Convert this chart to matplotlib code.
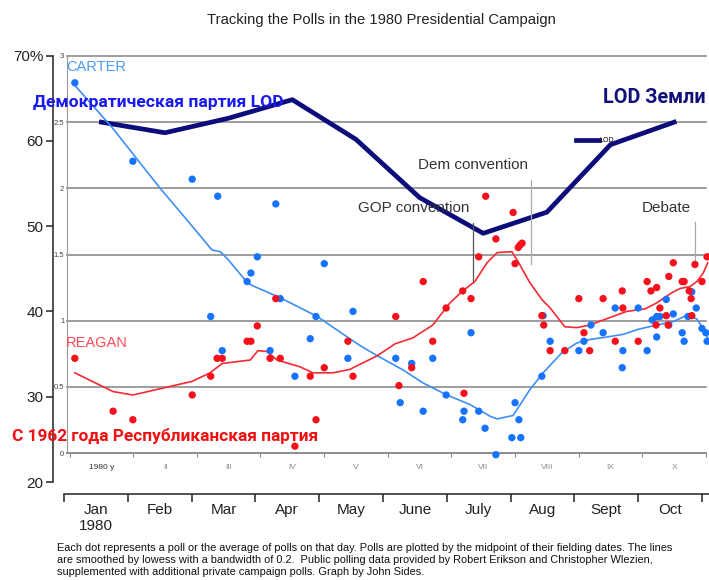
import matplotlib
matplotlib.use("Agg")
import matplotlib.pyplot as plt
import numpy as np

# poll dots: month position (0 = Jan 1) and percent
carter_m = [0.17, 1.08, 2.01, 2.41, 3.32, 3.03, 2.30, 2.48, 2.87, 2.93, 3.39, 3.95, 3.23, 3.62,
            3.86, 4.08, 4.45, 4.53, 5.20, 5.45, 5.78, 6.38, 5.27, 5.63, 5.99, 6.27, 6.25, 6.50,
            6.60, 6.77, 7.02, 7.16, 7.07, 7.13, 7.49, 7.62, 7.51, 8.07, 8.15, 8.26, 8.45, 8.64,
            8.75, 8.76, 9.00, 9.14, 9.22, 9.29, 9.34, 9.44, 9.29, 9.55, 9.48, 9.69, 9.72, 9.78,
            9.84, 9.91, 10.0, 10.06, 10.08]
carter_pct = [66.8, 57.6, 55.5, 53.5, 52.6, 46.4, 39.4, 35.4, 43.5, 44.5, 41.5, 39.4, 35.4, 32.4,
              36.8, 45.6, 34.5, 40.0, 34.5, 33.9, 34.5, 37.5, 29.3, 28.3, 30.2, 28.3, 27.3, 28.3,
              26.3, 23.2, 25.2, 25.2, 29.3, 27.3, 32.4, 36.5, 39.5, 35.4, 36.5, 38.4, 37.5, 40.4,
              33.4, 35.4, 40.4, 35.4, 39.0, 39.4, 39.4, 41.4, 37.0, 39.7, 38.4, 37.5, 36.5, 39.4,
              42.3, 40.4, 38.0, 37.5, 36.5]

reagan_m = [0.17, 0.77, 1.08, 2.01, 2.30, 2.40, 2.48, 2.87, 2.93, 3.03, 3.32, 3.23, 3.39, 3.86,
            4.08, 3.95, 3.62, 4.45, 4.53, 5.20, 5.63, 5.99, 6.25, 6.38, 5.78, 5.45, 5.25, 6.27,
            6.50, 6.61, 6.77, 7.04, 7.07, 7.12, 7.15, 7.18, 7.49, 7.52, 7.62, 7.85, 8.07, 8.15,
            8.24, 8.45, 8.64, 8.75, 8.76, 9.00, 9.14, 9.20, 9.29, 9.34, 9.44, 9.28, 9.47, 9.48,
            9.55, 9.69, 9.72, 9.80, 9.83, 9.84, 9.89, 10.0, 10.08]
reagan_pct = [34.5, 28.3, 27.3, 30.2, 32.4, 34.5, 34.5, 36.5, 36.5, 38.3, 41.5, 34.5, 34.5, 32.4,
              33.4, 27.3, 24.2, 36.5, 32.4, 39.4, 43.5, 40.4, 42.4, 41.5, 36.5, 33.4, 31.3, 30.4,
              46.4, 53.5, 48.5, 51.6, 45.6, 47.5, 47.8, 48.0, 39.5, 38.4, 35.4, 35.4, 41.5, 37.5,
              35.4, 41.5, 36.5, 42.4, 40.4, 36.5, 43.5, 42.4, 42.8, 40.4, 39.5, 38.4, 38.4, 44.1,
              45.7, 43.5, 43.5, 42.4, 41.5, 39.5, 45.5, 43.5, 46.4]

# lowess lines
carter_line_m = [0.17, 0.75, 1.50, 1.93, 2.32, 2.45, 2.57, 2.87, 2.96, 3.39, 3.97, 4.44, 4.64, 4.91,
                 5.30, 5.63, 6.00, 6.36, 6.68, 6.79, 7.04, 7.30, 7.51, 7.81, 8.04, 8.24, 8.51, 8.76,
                 9.00, 9.29, 9.55, 9.78, 9.92, 10.0, 10.09]
carter_line_pct = [66.5, 61.6, 54.5, 50.7, 47.2, 47.0, 46.1, 43.4, 43.0, 41.6, 39.4, 37.0, 36.0, 34.8,
                   33.2, 31.6, 30.2, 29.1, 27.7, 27.4, 27.8, 30.8, 32.8, 35.2, 36.3, 36.7, 37.0, 37.3,
                   37.9, 38.4, 38.8, 39.6, 39.1, 38.2, 36.9]
reagan_line_m = [0.17, 0.77, 1.08, 2.01, 2.29, 2.48, 2.92, 3.04, 3.18, 3.34, 3.70, 3.90, 4.22, 4.48,
                 4.64, 4.91, 5.19, 5.47, 5.78, 6.05, 6.25, 6.44, 6.63, 6.79, 7.02, 7.12, 7.30, 7.49,
                 7.62, 7.85, 8.04, 8.24, 8.60, 8.82, 9.11, 9.29, 9.53, 9.66, 9.81, 9.92, 10.02, 10.09]
reagan_line_pct = [32.8, 30.6, 30.2, 31.8, 32.8, 33.9, 34.3, 35.4, 35.3, 34.3, 33.5, 32.8, 32.8, 33.2,
                   33.8, 34.8, 36.2, 36.9, 38.4, 41.0, 42.4, 43.5, 45.7, 46.9, 47.0, 45.8, 43.4, 41.4,
                   40.4, 38.2, 38.1, 38.4, 39.4, 40.0, 40.3, 41.0, 42.2, 42.7, 42.9, 43.5, 44.5, 45.7]

# LOD overlay, one value per month
lod_months = ["1980 y", "II", "III", "IV", "V", "VI", "VII", "VIII", "IX", "X"]
lod_values = [2.50, 2.42, 2.53, 2.67, 2.37, 1.93, 1.66, 1.82, 2.33, 2.50]

month_labels = ["Jan\n1980", "Feb", "Mar", "Apr", "May", "June", "July", "Aug", "Sept", "Oct"]
pct_ticks = [20, 30, 40, 50, 60, 70]
pct_labels = ["20", "30", "40", "50", "60", "70%"]

# events: month position, top and bottom of marker line
event_m = [6.41, 7.32, 9.89]
event_top = [50.4, 55.4, 50.5]
event_bottom = [43.5, 45.5, 45.5]
event_colors = ["#555555", "#aaaaaa", "#aaaaaa"]

W, H = 709, 580
plt.rcParams['font.family'] = ['Liberation Sans', 'DejaVu Sans']
BOLDFONT = ['Roboto', 'Liberation Sans', 'DejaVu Sans']


def box(left, top, right, bottom):
    return [left / W, 1 - bottom / H, (right - left) / W, (bottom - top) / H]


def fxy(x, y):
    return x / W, 1 - y / H


fig = plt.figure(figsize=(W / 100, H / 100), dpi=100)

# inner LOD axes
ax2 = fig.add_axes(box(67, 56, 706, 453))
ax2.set_xlim(-0.04, 9.99)
ax2.set_ylim(0, 3)
ax2.patch.set_visible(False)
ax2.spines[['top', 'right']].set_visible(False)
ax2.spines['left'].set_color('#9a9a9a')
ax2.spines['left'].set_linewidth(0.8)
ax2.spines['bottom'].set_color('#8c8c8c')
ax2.spines['bottom'].set_linewidth(1.2)
ax2.set_yticks(np.arange(0, 3.01, 0.5), ['0', '0.5', '1', '1.5', '2', '2.5', '3'])
ax2.yaxis.grid(True, color='#8c8c8c', lw=1.2)
for gl in ax2.get_ygridlines():
    gl.set_clip_on(False)
ax2.tick_params(axis='y', length=0, pad=2, labelsize=5.5, labelcolor='#444444')
ax2.set_xticks(range(11), [''] * 11)
ax2.set_xticks(np.arange(10) + 0.5, lod_months, minor=True)
ax2.tick_params(axis='x', which='major', length=3, color='#8c8c8c')
ax2.tick_params(axis='x', which='minor', length=0, pad=8, labelsize=6, labelcolor='#8a8a8a')
ax2.get_xticklabels(minor=True)[0].set_color('#333333')
ax2.plot(np.arange(10) + 0.5, lod_values, color='#0c0c7a', lw=3.4, label='LOD', zorder=3)
leg = ax2.legend(loc='center left', bbox_to_anchor=fxy(576, 141), bbox_transform=fig.transFigure,
                 frameon=False, fontsize=5, handlelength=3.3, handletextpad=0.1,
                 borderpad=0, borderaxespad=0)

# polls axes with the percent scale and the month scale
ax = fig.add_axes(box(53, 55.5, 709, 482))
ax.set_xlim(-0.172, 10.11)
ax.set_ylim(20, 70)
ax.patch.set_visible(False)
ax.spines[['top', 'right']].set_visible(False)
ax.spines['left'].set_color('#222222')
ax.spines['left'].set_linewidth(1.1)
ax.spines['bottom'].set_color('#222222')
ax.spines['bottom'].set_linewidth(1.1)
ax.spines['bottom'].set_position(('outward', 8.6))
ax.spines['bottom'].set_bounds(0, 10.11)
ax.set_yticks(pct_ticks, pct_labels)
ax.tick_params(axis='y', length=5, width=1.1, pad=2, labelsize=11, color='#222222', labelcolor='#222222')
ax.set_xticks(range(11), [''] * 11)
ax.set_xticks(np.arange(10) + 0.5, month_labels, minor=True)
ax.tick_params(axis='x', which='major', length=6, width=1.1, color='#222222')
ax.tick_params(axis='x', which='minor', length=0, pad=6.5, labelsize=11, labelcolor='#222222')
for t in ax.get_xticklabels(minor=True):
    t.set_linespacing(1.2)

ax.plot(carter_line_m, carter_line_pct, color='#3d8ef5', lw=1.2, zorder=3, clip_on=False)
ax.plot(reagan_line_m, reagan_line_pct, color='#f52a33', lw=1.2, zorder=3, clip_on=False)
ax.scatter(carter_m, carter_pct, s=28, color='#1673ff', edgecolors='none', zorder=4, clip_on=False)
ax.scatter(reagan_m, reagan_pct, s=28, color='#f5101c', edgecolors='none', zorder=4, clip_on=False)
for m, t, b, c in zip(event_m, event_top, event_bottom, event_colors):
    ax.plot([m, m], [t, b], color=c, lw=0.9, zorder=2)

# texts
fig.text(*fxy(381, 20), "Tracking the Polls in the 1980 Presidential Campaign",
         ha='center', va='center', fontsize=10.6, color='#222222')
fig.text(*fxy(66, 67), "CARTER", ha='left', va='center', fontsize=10.5, color='#4a9af5')
fig.text(*fxy(66, 343), "REAGAN", ha='left', va='center', fontsize=10.5, color='#ff4a55')
fig.text(*fxy(418, 165), "Dem convention", ha='left', va='center', fontsize=11, color='#333333')
fig.text(*fxy(358, 208), "GOP convention", ha='left', va='center', fontsize=11, color='#333333')
fig.text(*fxy(642, 208), "Debate", ha='left', va='center', fontsize=11, color='#333333')
fig.text(*fxy(33, 102), "Демократическая партия LOD", ha='left', va='center', fontsize=12.6,
         fontweight='bold', color='#1a1aee', family=BOLDFONT)
fig.text(*fxy(603, 97), "LOD Земли", ha='left', va='center', fontsize=14.2,
         fontweight='bold', color='#10107a', family=BOLDFONT)
fig.text(*fxy(12, 436), "С 1962 года Республиканская партия", ha='left', va='center', fontsize=12.4,
         fontweight='bold', color='#f01010', family=BOLDFONT)

footnote = ("Each dot represents a poll or the average of polls on that day. Polls are plotted by the "
            "midpoint of their fielding dates. The lines\nare smoothed by lowess with a bandwidth of 0.2.  "
            "Public polling data provided by Robert Erikson and Christopher Wlezien,\n"
            "supplemented with additional private campaign polls. Graph by John Sides.")
fig.text(*fxy(57, 543), footnote, ha='left', va='top', fontsize=7.9, color='#111111',
         linespacing=1.25)

fig.savefig("out.png", dpi=100)
